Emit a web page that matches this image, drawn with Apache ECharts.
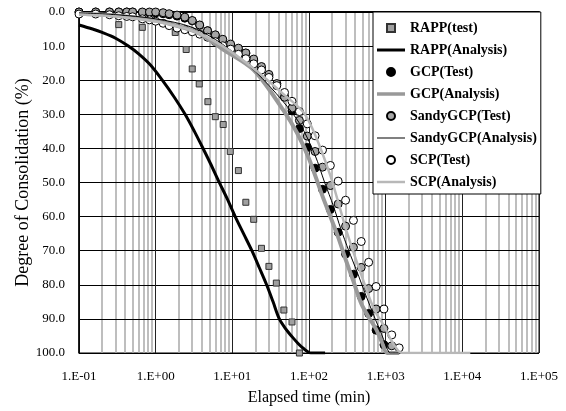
<!DOCTYPE html>
<html><head><meta charset="utf-8">
<script src="https://cdn.jsdelivr.net/npm/echarts@6/dist/echarts.min.js"></script>
<style>html,body{margin:0;padding:0;background:#fff}#c{width:566px;height:411px}</style>
</head><body><div id="c"></div>
<script>
// ---- data (time in min, degree of consolidation in %) ----
const testTimes = [0.1,0.165,0.25,0.33,0.42,0.5,0.67,0.83,1,1.25,1.5,1.9,2.4,3,3.75,4.75,6,7.5,9.5,12,15,19,24,30,38,48,60,75,95,120,150,190,240,300,380,480,600,750,950,1200,1500];
const gcpTest   = [0,0,0,0,0,0,0.1,0.2,0.3,0.5,0.8,1.2,1.8,2.6,3.9,5.5,6.8,8.2,9.8,11.0,12.1,14.3,16.5,18.7,21.1,24.8,29.0,34.2,39.7,45.8,52.0,57.9,64.6,71.0,76.9,83.4,88.4,93.3,97.6];
const sandyTest = [0,0,0,0,0,0,0,0,0,0.2,0.5,0.9,1.5,2.5,3.8,5.5,6.7,8.0,9.4,10.6,12.0,13.8,16.0,18.3,21.0,25.0,28.2,31.8,36.4,40.9,45.5,50.9,56.3,62.8,69.0,74.9,81.1,87.1,92.8,97.9];
const scpTest   = [0.6,0.6,0.8,1.1,1.3,1.4,2.0,2.3,2.7,3.3,4.0,4.7,5.2,5.8,6.5,7.4,8.7,9.9,10.9,12.4,13.7,15.2,17.0,19.2,21.6,23.6,26.2,29.2,32.8,36.3,40.5,45.0,49.6,55.2,61.1,67.3,73.4,80.5,87.1,94.7,98.5];

const rappTestT = [0.33,0.67,1.8,2.5,3.0,3.7,4.8,6.0,7.6,9.4,12,15,19,24,30,37.5,47,60,75];
const rappTestU = [3.7,4.5,6.0,11.0,16.7,21.1,26.3,30.7,33.0,40.9,46.5,55.8,60.8,69.3,74.6,79.5,87.4,90.9,100];

const rappAnaT = [0.1,0.15,0.2,0.3,0.44,0.6,0.85,1.22,1.75,2.42,3.2,4.0,5.2,6.6,8.5,10.9,14,18,22.5,28,34,41,50,60,72,84,106,162];
const rappAnaU = [3.8,5.0,6.0,7.7,10,12.3,15.5,20,25,30,35,39.3,44.5,49.5,54.6,60,65,70,75,80,85,90,93,95.2,97.2,98.6,100,100];

const gcpAnaT = [0.1,0.3,1,2,3.5,7.6,19,46,70,100,150,190,240,300,380,480,600,750,900,1050,1500];
const gcpAnaU = [0.5,1.0,2.5,4.2,6.0,11.0,17.0,28.7,35.5,43,54,60,66,72.5,79,85.5,89.5,93,97,100,100];

const sandyAnaT = [0.1,0.3,1,3,7.5,20,45,77,120,160,209,259,330,420,550,700,884,1000,1150,1500];
const sandyAnaU = [0.3,0.8,2.0,4.5,9.5,17.5,26,33,42,50,57,63.5,70,76,83,89,94.5,97.5,100,100];

const scpAnaT = [0.1,0.3,1,3,7.5,20,46,85,120,190,256,313,480,700,950,1200,1650,12700];
const scpAnaU = [0.7,1.3,2.8,5.5,10,17,24,29.5,36,48,57.9,64.7,77,87,92,96.5,100,100];

const yTicks = [0,10,20,30,40,50,60,70,80,90,100];

// ---- helpers ----
function zip(t,u){ const out=[]; for(let i=0;i<u.length;i++) out.push([t[i],u[i]]); return out; }
const minorVals = [];
for (let k=-1;k<=4;k++) for (let m=2;m<=9;m++) minorVals.push(Number((m*Math.pow(10,k)).toPrecision(6)));
const FONT = "'Liberation Serif','Times New Roman',serif";
const SQ = 'path://M0,0H10V10H0Z';
function bar(h){ return 'path://M0,0H28V'+h+'H0Z'; }

const chart = echarts.init(document.getElementById('c'), null, {renderer:'canvas'});
chart.setOption({
  animation:false,
  backgroundColor:'#fff',
  grid:{left:79, right:27, top:12, bottom:57, show:true, borderColor:'#000', borderWidth:1, backgroundColor:'transparent'},
  legend:{
    orient:'vertical', left:373, top:12, selectedMode:false, z:10,
    backgroundColor:'#fff', borderColor:'#000', borderWidth:1,
    padding:[9,4,5,4], itemGap:8, itemWidth:28, itemHeight:8,
    textStyle:{fontFamily:FONT, fontWeight:'bold', fontSize:14, color:'#000', lineHeight:14},
    data:[
      {name:'RAPP(test)', icon:SQ},
      {name:'RAPP(Analysis)', icon:bar(3)},
      {name:'GCP(Test)', icon:'circle'},
      {name:'GCP(Analysis)', icon:bar(3.5)},
      {name:'SandyGCP(Test)', icon:'circle'},
      {name:'SandyGCP(Analysis)', icon:bar(1)},
      {name:'SCP(Test)', icon:'circle'},
      {name:'SCP(Analysis)', icon:bar(2.5)}
    ]
  },
  xAxis:{
    type:'log', logBase:10, min:0.1, max:100000, z:1,
    name:'Elapsed time (min)', nameLocation:'middle', nameGap:37, nameMoveOverlap:false,
    nameTextStyle:{fontFamily:FONT, fontSize:16, color:'#000'},
    axisLine:{show:true, lineStyle:{color:'#000', width:2}},
    axisTick:{show:false},
    axisLabel:{margin:17, fontFamily:FONT, fontSize:13, color:'#000',
      formatter:function(v){ const e=Math.round(Math.log10(v)); const a=Math.abs(e); return '1.E'+(e<0?'-':'+')+(a<10?'0':'')+a; }},
    splitLine:{show:true, lineStyle:{color:'#222', width:1}}
  },
  yAxis:{
    type:'value', inverse:true, min:yTicks[0], max:yTicks[yTicks.length-1], interval:10, z:1,
    name:'Degree of Consolidation (%)', nameLocation:'middle', nameGap:47, nameMoveOverlap:false,
    nameTextStyle:{fontFamily:FONT, fontSize:18, color:'#000'},
    axisLine:{show:true, lineStyle:{color:'#000', width:1.5}},
    axisTick:{show:false},
    axisLabel:{margin:14, fontFamily:FONT, fontSize:13, color:'#000', formatter:function(v){return v.toFixed(1);}},
    splitLine:{show:true, lineStyle:{color:'#000', width:1}}
  },
  series:[
    {name:'minor', type:'line', data:[], z:0, silent:true,
      markLine:{silent:true, z:0, symbol:['none','none'], label:{show:false}, animation:false,
        lineStyle:{color:'#a8a8a8', width:1.5, type:'solid'},
        data:minorVals.map(v=>({xAxis:v}))}},
    {name:'RAPP(test)', type:'scatter', data:zip(rappTestT,rappTestU), symbol:'rect', symbolSize:6,
      itemStyle:{color:'#a0a0a0', borderColor:'#333', borderWidth:1, opacity:1}},
    {name:'RAPP(Analysis)', type:'line', data:zip(rappAnaT,rappAnaU), symbol:'none', showSymbol:false, smooth:0.3,
      lineStyle:{color:'#000', width:3}, itemStyle:{color:'#000'}},
    {name:'GCP(Test)', type:'scatter', data:zip(testTimes,gcpTest), symbol:'circle', symbolSize:8,
      itemStyle:{color:'#000', borderColor:'#000', borderWidth:1, opacity:1}},
    {name:'GCP(Analysis)', type:'line', data:zip(gcpAnaT,gcpAnaU), symbol:'none', showSymbol:false, smooth:0.3,
      lineStyle:{color:'#999', width:4}, itemStyle:{color:'#999'}},
    {name:'SandyGCP(Test)', type:'scatter', data:zip(testTimes,sandyTest), symbol:'circle', symbolSize:8,
      itemStyle:{color:'#a6a6a6', borderColor:'#000', borderWidth:1, opacity:1}},
    {name:'SandyGCP(Analysis)', type:'line', data:zip(sandyAnaT,sandyAnaU), symbol:'none', showSymbol:false, smooth:0.3,
      lineStyle:{color:'#000', width:1}, itemStyle:{color:'#000'}},
    {name:'SCP(Test)', type:'scatter', data:zip(testTimes,scpTest), symbol:'circle', symbolSize:8,
      itemStyle:{color:'#fff', borderColor:'#000', borderWidth:1, opacity:1}},
    {name:'SCP(Analysis)', type:'line', data:zip(scpAnaT,scpAnaU), symbol:'none', showSymbol:false, smooth:0.3,
      lineStyle:{color:'#b8b8b8', width:2.5}, itemStyle:{color:'#b8b8b8'}}
  ]
});
</script></body></html>
